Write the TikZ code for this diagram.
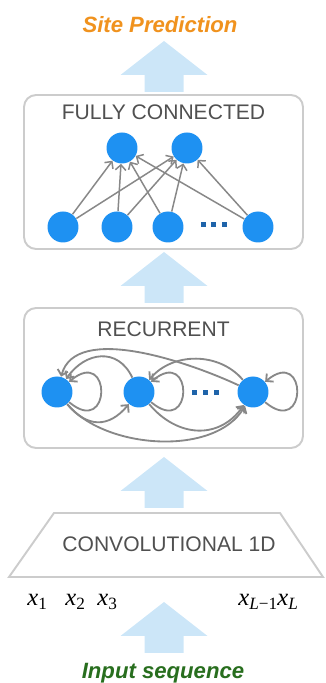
\documentclass[tikz,border=0pt]{standalone}
\usepackage{fontspec}
\setsansfont{Liberation Sans}
\newfontfamily\fonteSerif{Liberation Serif}
\usetikzlibrary{arrows.meta}
\definecolor{azulNo}{RGB}{30,145,242}
\definecolor{azulPonto}{RGB}{31,100,170}
\definecolor{azulSeta}{RGB}{204,230,248}
\definecolor{cinzaBorda}{RGB}{204,204,204}
\definecolor{cinzaLigacao}{RGB}{136,136,136}
\definecolor{cinzaTexto}{RGB}{80,80,80}
\definecolor{laranjaTitulo}{RGB}{240,146,30}
\definecolor{verdeEscuro}{RGB}{40,110,30}
\newcommand{\varX}[1]{\textit{x}\textsubscript{#1}}
\tikzset{
  painel/.style={draw=cinzaBorda, line width=1.1pt, rounded corners=0.24cm},
  neuronio/.style={circle, fill=azulNo, minimum size=0.62cm, inner sep=0pt},
  ponto/.style={rectangle, fill=azulPonto, minimum size=0.1cm, inner sep=0pt},
  ligacao/.style={-{Straight Barb[length=3pt,width=6pt]}, line width=0.85pt, draw=cinzaLigacao},
  ligacaoRec/.style={ligacao, line width=1.05pt},
  rotulo/.style={font=\sffamily\fontsize{12}{14}\selectfont, text=cinzaTexto, anchor=base, inner sep=0pt},
  destaque/.style={font=\sffamily\bfseries\itshape\fontsize{12.6}{15}\selectfont, anchor=base, inner sep=0pt},
  entrada/.style={font=\fonteSerif\fontsize{14}{16}\selectfont, anchor=base west, inner sep=0pt},
  setaGrande/.pic={
    \fill[azulSeta] (-19.5,0) -- (-19.5,17) -- (-43.5,17) -- (0,51)
      -- (43.5,17) -- (19.5,17) -- (19.5,0) -- cycle;
  }
}

\begin{document}
\begin{tikzpicture}[x=0.02cm, y=0.02cm]
\useasboundingbox (0,0) rectangle (325,683);

\node[destaque, text=laranjaTitulo] (saida) at (160,650) {Site Prediction};
\pic at (164,591) {setaGrande};

% camada densa
\node[painel, minimum width=5.58cm, minimum height=3.08cm] (densa) at (163.5,511) {};
\node[rotulo] (tituloDensa) at (163.5,563) {FULLY CONNECTED};

\node[neuronio] (topo1) at (122,535) {};
\node[neuronio] (topo2) at (187,535) {};
\node[neuronio] (base1) at (63,456) {};
\node[neuronio] (base2) at (117,456) {};
\node[neuronio] (base3) at (168,456) {};
\node[neuronio] (base4) at (258,456) {};
\node[ponto] (pd1) at (203,458) {};
\node[ponto] (pd2) at (213.5,458) {};
\node[ponto] (pd3) at (224,458) {};

\draw[ligacao] (base1) -- (topo1);
\draw[ligacao] (base1) -- (topo2);
\draw[ligacao] (base2) -- (topo1);
\draw[ligacao] (base2) -- (topo2);
\draw[ligacao] (base3) -- (topo1);
\draw[ligacao] (base3) -- (topo2);
\draw[ligacao] (base4) -- (topo1);
\draw[ligacao] (base4) -- (topo2);

\pic at (164,380) {setaGrande};

% camada recorrente
\node[painel, minimum width=5.58cm, minimum height=2.8cm] (recorrente) at (163.5,305) {};
\node[rotulo] (tituloRec) at (163.5,346) {RECURRENT};

\node[neuronio] (r1) at (57,291) {};
\node[neuronio] (r2) at (139,291) {};
\node[neuronio] (r3) at (253,291) {};
\node[ponto] (pr1) at (194,290) {};
\node[ponto] (pr2) at (205,290) {};
\node[ponto] (pr3) at (216,290) {};

\draw[ligacaoRec] (r1) to[out=-40, in=40, looseness=7] (r1);
\draw[ligacaoRec] (r2) to[out=-40, in=40, looseness=7] (r2);
\draw[ligacaoRec] (r3) to[out=-40, in=40, looseness=7] (r3);
\draw[ligacaoRec] (r1) to[out=-50, in=-130, looseness=1.3] (r2);
\draw[ligacaoRec] (r1) to[out=-50, in=-120, looseness=0.85] (r3);
\draw[ligacaoRec] (r2) to[out=-50, in=-125, looseness=1.17] (r3);
\draw[ligacaoRec] (r2) to[out=115, in=55, looseness=1.3] (r1);
\draw[ligacaoRec] (r3) to[out=155, in=75, looseness=0.8] (r1);
\draw[ligacaoRec] (r3) to[out=130, in=50, looseness=1] (r2);

\pic at (164,175) {setaGrande};

% camada convolucional
\draw[draw=cinzaBorda, line width=1.1pt] (9,106) -- (54,170) -- (280,170) -- (323,106) -- cycle;
\node[rotulo] (tituloConv) at (169,131) {CONVOLUTIONAL 1D};

\node[entrada] (x1) at (27,77) {\varX{1}};
\node[entrada] (x2) at (65,77) {\varX{2}};
\node[entrada] (x3) at (97,77) {\varX{3}};
\node[entrada] (xLm) at (238,77) {\varX{\textit{L}−1}};
\node[entrada] (xL) at (277,77) {\varX{\textit{L}}};

\pic at (164,30) {setaGrande};
\node[destaque, text=verdeEscuro] (sequencia) at (163,5) {Input sequence};

\end{tikzpicture}
\end{document}
